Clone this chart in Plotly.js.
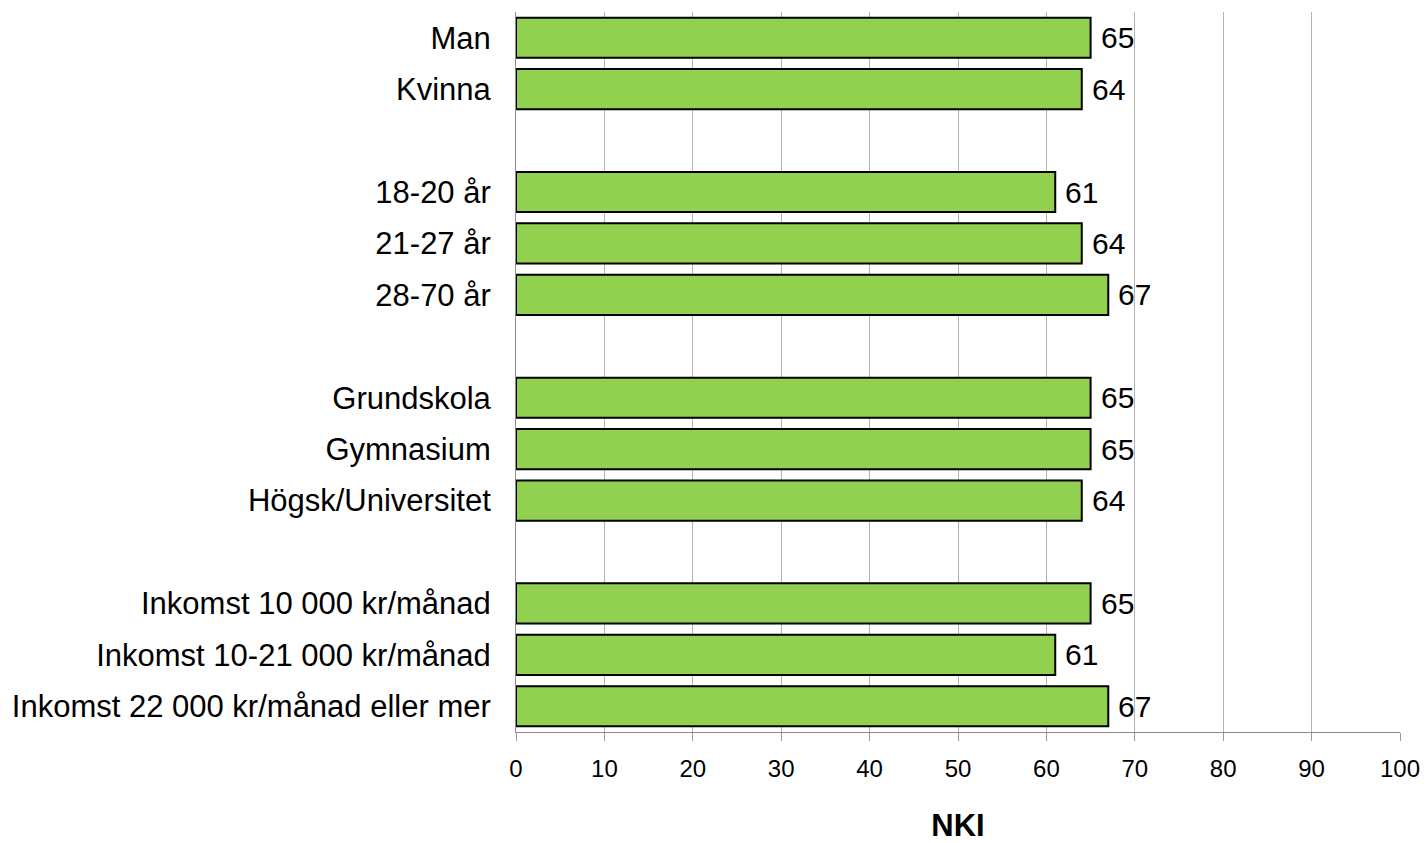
<!DOCTYPE html>
<html>
<head>
<meta charset="utf-8">
<script src="https://cdn.plot.ly/plotly-3.0.1.min.js"></script>
<style>html,body{margin:0;padding:0;background:#fff;}#chart{width:1427px;height:843px;}</style>
</head>
<body>
<div id="chart"></div>
<script>
// Categories top to bottom; blank entries are the gaps between groups
const categories = ["Man", "Kvinna", " ", "18-20 år", "21-27 år", "28-70 år", "  ",
  "Grundskola", "Gymnasium", "Högsk/Universitet", "   ",
  "Inkomst 10 000 kr/månad", "Inkomst 10-21 000 kr/månad", "Inkomst 22 000 kr/månad eller mer"];
const nkiValues = [65, 64, null, 61, 64, 67, null, 65, 65, 64, null, 65, 61, 67];
const xTickValues = [0, 10, 20, 30, 40, 50, 60, 70, 80, 90, 100];
const xTitle = "NKI";

const font = "Arial, 'Liberation Sans', Helvetica, sans-serif";

const trace = {
  type: "bar",
  orientation: "h",
  y: categories,
  x: nkiValues,
  marker: { color: "#92D050", line: { color: "#000000", width: 2 } },
  hoverinfo: "skip"
};

const annotations = [];
categories.forEach((c, i) => {
  if (nkiValues[i] !== null) {
    annotations.push({
      x: nkiValues[i], y: c, xref: "x", yref: "y",
      text: String(nkiValues[i]), showarrow: false,
      xanchor: "left", yanchor: "middle", xshift: 8,
      font: { family: font, size: 30, color: "#000" }
    });
  }
});

const layout = {
  width: 1427, height: 843,
  margin: { l: 516, r: 27, t: 12, b: 111 },
  paper_bgcolor: "#ffffff", plot_bgcolor: "#ffffff",
  showlegend: false,
  bargap: 0.22,
  font: { family: font, color: "#000" },
  xaxis: {
    range: [0, 100],
    tickvals: xTickValues,
    ticks: "outside", ticklen: 8, tickcolor: "#999999", tickwidth: 1,
    showgrid: true, gridcolor: "#b3b3b3", gridwidth: 1,
    showline: true, linecolor: "#8c8c8c", linewidth: 1,
    zeroline: false,
    tickfont: { family: font, size: 24, color: "#000" },
    ticklabelstandoff: 7,
    title: { text: xTitle, font: { family: font, size: 31, color: "#000", weight: "bold" }, standoff: 36 },
    fixedrange: true
  },
  yaxis: {
    type: "category",
    categoryorder: "array",
    categoryarray: categories,
    autorange: "reversed",
    showgrid: false,
    showline: true, linecolor: "#8c8c8c", linewidth: 1,
    ticks: "",
    ticklabelstandoff: 18,
    tickfont: { family: font, size: 31, color: "#000" },
    fixedrange: true
  },
  annotations: annotations
};

Plotly.newPlot("chart", [trace], layout, { displayModeBar: false, staticPlot: true });
</script>
</body>
</html>
